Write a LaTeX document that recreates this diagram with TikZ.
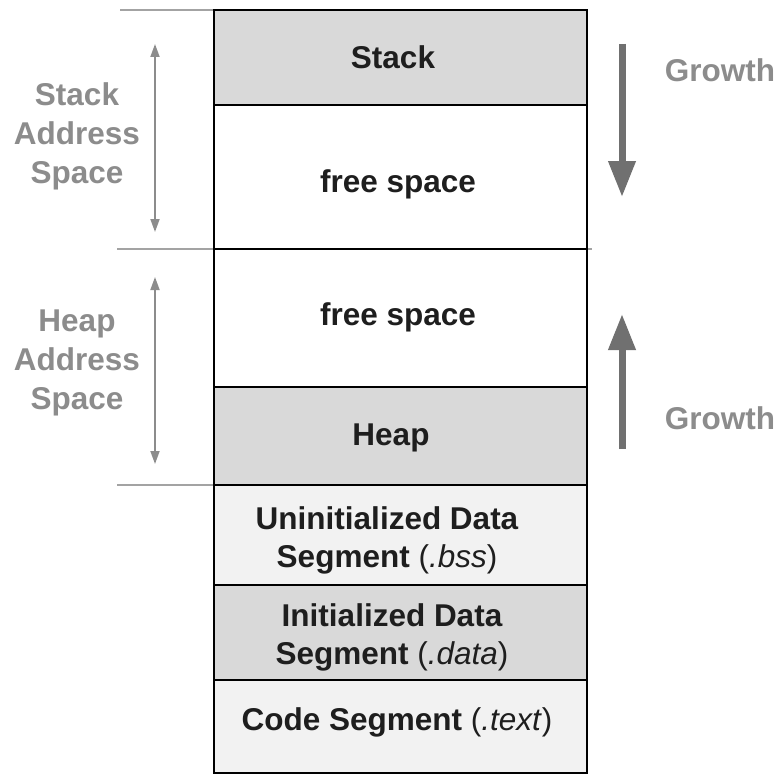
\documentclass[tikz,border=0pt]{standalone}
\usepackage{fontspec}
\setmainfont{Liberation Sans}
\usetikzlibrary{arrows.meta}
\definecolor{segdark}{HTML}{D9D9D9}
\definecolor{seglight}{HTML}{F2F2F2}
\definecolor{lblgray}{HTML}{8C8C8C}
\definecolor{arrgray}{HTML}{707070}
\definecolor{txtdark}{HTML}{1E1E1E}
\begin{document}
\begin{tikzpicture}[x=1pt,y=-1pt,
  seg/.style={draw=black, line width=2.8pt, minimum width=373pt, inner sep=0pt, outer sep=0pt, anchor=north west},
  segtext/.style={text=txtdark, align=center, font=\fontsize{31.5}{38}\selectfont\bfseries},
  sidelabel/.style={text=lblgray, align=center, font=\fontsize{31.5}{39}\selectfont\bfseries},
  guide/.style={draw=lblgray!80, line width=1.6pt},
  span/.style={draw=lblgray, line width=1.8pt, {Triangle[width=9pt,length=13pt]}-{Triangle[width=9pt,length=13pt]}},
  growth/.style={draw=arrgray, line width=7pt, -{Triangle[width=26pt,length=36pt]}}]
\useasboundingbox[fill=white] (0,0) rectangle (778,776);
% guide lines
\draw[guide] (120,10) -- (214,10);
\draw[guide] (117,249) -- (592,249);
\draw[guide] (117,485) -- (214,485);
% segments
\node[seg, fill=segdark, minimum height=95pt] (stack) at (214,10) {};
\node[seg, fill=white, minimum height=144pt] (free1) at (214,105) {};
\node[seg, fill=white, minimum height=138pt] (free2) at (214,249) {};
\node[seg, fill=segdark, minimum height=98pt] (heap) at (214,387) {};
\node[seg, fill=seglight, minimum height=100pt] (bss) at (214,485) {};
\node[seg, fill=segdark, minimum height=95pt] (data) at (214,585) {};
\node[seg, fill=seglight, minimum height=93pt] (code) at (214,680) {};
% segment texts
\node[segtext] (stackT) at (393,57) {Stack};
\node[segtext] (free1T) at (398,184) {free space};
\node[segtext] (free2T) at (398,317) {free space};
\node[segtext] (heapT) at (391,438) {Heap};
\node[segtext] (bssT) at (387,540) {Uninitialized Data\\Segment {\mdseries(\textit{.bss})}};
\node[segtext] (dataT) at (392,637) {Initialized Data\\Segment {\mdseries(\textit{.data})}};
\node[segtext] (codeT) at (397,722) {Code Segment {\mdseries(\textit{.text})}};
% side labels
\node[sidelabel] (stackL) at (77,136) {Stack\\Address\\Space};
\node[sidelabel] (heapL) at (77,363) {Heap\\Address\\Space};
\node[sidelabel] (growthTop) at (720,70) {Growth};
\node[sidelabel] (growthBot) at (720,418) {Growth};
% span arrows
\coordinate (sa1) at (155,44);
\coordinate (sa2) at (155,232);
\coordinate (ha1) at (155,277);
\coordinate (ha2) at (155,464);
\draw[span] (sa1) -- (sa2);
\draw[span] (ha1) -- (ha2);
% growth arrows
\coordinate (g1a) at (622,44);
\coordinate (g1b) at (622,197);
\coordinate (g2a) at (622,449);
\coordinate (g2b) at (622,314);
\draw[growth] (g1a) -- (g1b);
\draw[growth] (g2a) -- (g2b);
\end{tikzpicture}
\end{document}
